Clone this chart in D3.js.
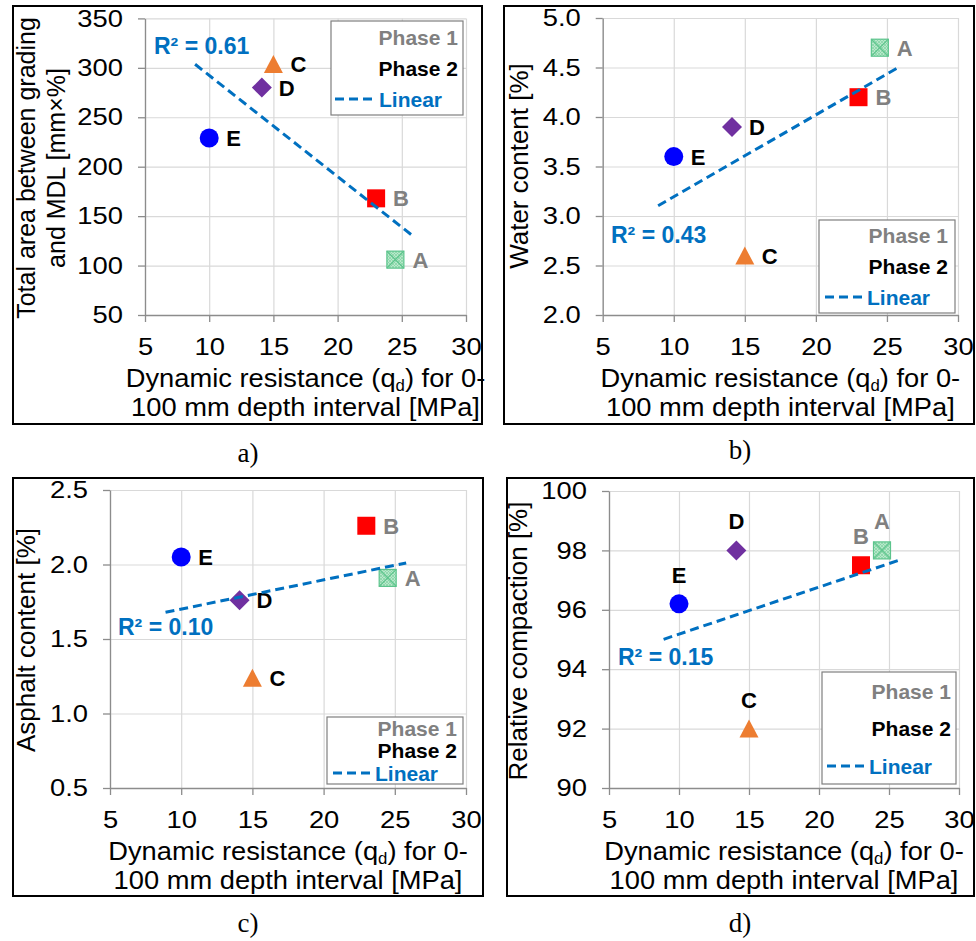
<!DOCTYPE html>
<html>
<head>
<meta charset="utf-8">
<script src="https://cdn.jsdelivr.net/npm/d3@7"></script>
<style>
  body { margin: 0; background: #fff; }
  svg text { font-family: "Liberation Sans", Arial, sans-serif; }
</style>
</head>
<body>
<svg id="chart"></svg>
<script>
// site data
const sites = ["A", "B", "C", "D", "E"];
const sitePhase = [1, 1, 2, 2, 2];
const qd = [24.5, 23.0, 15.0, 14.1, 10.0];
const gradingArea = [106, 168, 304, 280, 229];
const waterContent = [4.7, 4.2, 2.6, 3.9, 3.6];
const asphaltContent = [1.91, 2.26, 1.24, 1.76, 2.05];
const relCompaction = [98.0, 97.5, 92.0, 98.0, 96.2];

// ticks
const xTicks = [5, 10, 15, 20, 25, 30];
const gradingTicks = [50, 100, 150, 200, 250, 300, 350];
const waterTicks = [2.0, 2.5, 3.0, 3.5, 4.0, 4.5, 5.0];
const asphaltTicks = [0.5, 1.0, 1.5, 2.0, 2.5];
const compactionTicks = [90, 92, 94, 96, 98, 100];

// linear trendline drawn over this qd range (forecast both ways)
const trendRange = [8.9, 25.8];
const legendLabels = ["Phase 1", "Phase 2", "Linear"];

const width = 976,
  height = 941;

// the source figure's regular text is a bit wide, stretch it horizontally
const tickStretch = 1.14;
const titleStretch = 1.05;
const tickFont = 24;

const svg = d3.select("#chart").attr("width", width).attr("height", height);

const trendColor = "#0070C0";
const markerStyle = {
  A: { shape: "xsquare", fill: "#aee3c4", stroke: "#5cc48c" },
  B: { shape: "square", fill: "#ff0000" },
  C: { shape: "triangle", fill: "#ed7d31" },
  D: { shape: "diamond", fill: "#7030a0" },
  E: { shape: "circle", fill: "#0000ff" },
};

// pattern for site A
const defs = svg.append("defs");
const pat = defs
  .append("pattern")
  .attr("id", "hatchA")
  .attr("width", 3)
  .attr("height", 3)
  .attr("patternUnits", "userSpaceOnUse");
pat.append("rect").attr("width", 3).attr("height", 3).attr("fill", "#b8e8cb");
pat.append("path").attr("d", "M0,0L3,3M3,0L0,3").attr("stroke", "#7fd2a2").attr("stroke-width", 0.7);

function linFit(xs, ys) {
  const n = xs.length;
  const mx = d3.mean(xs),
    my = d3.mean(ys);
  let sxy = 0,
    sxx = 0,
    syy = 0;
  for (let i = 0; i < n; i++) {
    sxy += (xs[i] - mx) * (ys[i] - my);
    sxx += (xs[i] - mx) ** 2;
    syy += (ys[i] - my) ** 2;
  }
  const slope = sxy / sxx;
  return { slope, icpt: my - slope * mx, r2: (sxy * sxy) / (sxx * syy) };
}

const panels = [
  {
    values: gradingArea,
    ticks: gradingTicks,
    fmt: d3.format("d"),
    box: [13, 6, 482, 424],
    plot: [145, 466, 18.4, 315],
    yTitle: ["Total area between grading", "and MDL [mm\u00d7%]"],
    yTitleX: [35, 65],
    yTitleY: 168,
    yTitleSize: 25,
    r2Pos: [154, 54],
    legend: { box: [331, 21, 463, 115], rows: [45, 76, 107], right: 458, dash: [335, 377], dashY: 99 },
    labelMode: "right",
    caption: ["a)", 248, 462],
  },
  {
    values: waterContent,
    ticks: waterTicks,
    fmt: d3.format(".1f"),
    box: [504, 6, 974, 424],
    plot: [602.7, 958, 18, 315],
    yTitle: ["Water content [%]"],
    yTitleX: [528],
    yTitleY: 166,
    yTitleSize: 26,
    r2Pos: [611, 243],
    legend: { box: [819, 220, 955, 313], rows: [243, 274, 305], right: 948, dash: [825, 865], dashY: 297 },
    labelMode: "right",
    caption: ["b)", 740, 459],
  },
  {
    values: asphaltContent,
    ticks: asphaltTicks,
    fmt: d3.format(".1f"),
    box: [13, 478, 483, 896],
    plot: [110, 466, 490, 788],
    yTitle: ["Asphalt content [%]"],
    yTitleX: [35],
    yTitleY: 640,
    yTitleSize: 26,
    r2Pos: [118, 635],
    legend: { box: [327, 717, 463, 784], rows: [736, 758, 781], right: 457, dash: [333, 373], dashY: 773 },
    labelMode: "right",
    caption: ["c)", 248, 932],
  },
  {
    values: relCompaction,
    ticks: compactionTicks,
    fmt: d3.format("d"),
    box: [507, 478, 974, 896],
    plot: [609, 959, 491, 788],
    yTitle: ["Relative compaction [%]"],
    yTitleX: [527],
    yTitleY: 641,
    yTitleSize: 26,
    r2Pos: [618, 665],
    legend: { box: [822, 672, 956, 784], rows: [699, 736, 774], right: 951, dash: [827, 867], dashY: 766 },
    labelMode: "above",
    caption: ["d)", 740, 932],
  },
];

function drawMarker(g, site, cx, cy) {
  const st = markerStyle[site];
  if (st.shape === "circle") {
    g.append("circle").attr("cx", cx).attr("cy", cy).attr("r", 9.5).attr("fill", st.fill);
  } else if (st.shape === "square") {
    g.append("rect").attr("x", cx - 9).attr("y", cy - 9).attr("width", 18).attr("height", 18).attr("fill", st.fill);
  } else if (st.shape === "xsquare") {
    g.append("rect")
      .attr("x", cx - 8.5)
      .attr("y", cy - 8.5)
      .attr("width", 17)
      .attr("height", 17)
      .attr("fill", "url(#hatchA)")
      .attr("stroke", st.stroke)
      .attr("stroke-width", 1.2);
    g.append("path")
      .attr("d", `M${cx - 8.5},${cy - 8.5}L${cx + 8.5},${cy + 8.5}M${cx + 8.5},${cy - 8.5}L${cx - 8.5},${cy + 8.5}`)
      .attr("stroke", st.stroke)
      .attr("stroke-width", 1.2);
  } else if (st.shape === "triangle") {
    g.append("path")
      .attr("d", `M${cx},${cy - 9}L${cx + 9.5},${cy + 9}L${cx - 9.5},${cy + 9}Z`)
      .attr("fill", st.fill);
  } else if (st.shape === "diamond") {
    g.append("path")
      .attr("d", `M${cx},${cy - 10}L${cx + 10},${cy}L${cx},${cy + 10}L${cx - 10},${cy}Z`)
      .attr("fill", st.fill);
  }
}

panels.forEach((p) => {
  const g = svg.append("g");
  const [px0, px1, py0, py1] = p.plot;

  const x = d3.scaleLinear().domain([5, 30]).range([px0, px1]);
  const y = d3
    .scaleLinear()
    .domain(d3.extent(p.ticks))
    .range([py1, py0]);

  // gridlines
  g.append("g")
    .attr("transform", `translate(0,${py1})`)
    .call(d3.axisBottom(x).tickValues(xTicks).tickSize(-(py1 - py0)).tickFormat(""))
    .call((s) => {
      s.select(".domain").remove();
      s.selectAll("line").attr("stroke", "#d9d9d9").attr("stroke-width", 1.2);
    });
  g.append("g")
    .attr("transform", `translate(${px0},0)`)
    .call(d3.axisLeft(y).tickValues(p.ticks).tickSize(-(px1 - px0)).tickFormat(""))
    .call((s) => {
      s.select(".domain").remove();
      s.selectAll("line").attr("stroke", "#d9d9d9").attr("stroke-width", 1.2);
    });

  // axes
  g.append("g")
    .attr("transform", `translate(0,${py1})`)
    .call(d3.axisBottom(x).tickValues(xTicks).tickSize(7).tickSizeOuter(0).tickPadding(16))
    .call((s) => {
      s.select(".domain").attr("stroke", "#8c8c8c").attr("stroke-width", 1.3);
      s.selectAll("line").attr("stroke", "#8c8c8c").attr("stroke-width", 1.3);
      s.selectAll("text")
        .attr("font-size", tickFont)
        .attr("fill", "#000")
        .attr("transform", `scale(${tickStretch},1)`)
        .style("font-family", '"Liberation Sans", Arial, sans-serif');
    });
  g.append("g")
    .attr("transform", `translate(${px0},0)`)
    .call(d3.axisLeft(y).tickValues(p.ticks).tickSize(7).tickSizeOuter(0).tickPadding(15).tickFormat(p.fmt))
    .call((s) => {
      s.select(".domain").attr("stroke", "#8c8c8c").attr("stroke-width", 1.3);
      s.selectAll("line").attr("stroke", "#8c8c8c").attr("stroke-width", 1.3);
      s.selectAll("text")
        .attr("font-size", tickFont)
        .attr("fill", "#000")
        .attr("x", 0)
        .attr("transform", `translate(-22,0) scale(${tickStretch},1)`)
        .style("font-family", '"Liberation Sans", Arial, sans-serif');
    });

  // axis titles
  const cxp = (px0 + px1) / 2;
  const xt = g
    .append("text")
    .attr("transform", `translate(${cxp},${py1 + 72}) scale(${titleStretch},1)`)
    .attr("text-anchor", "middle")
    .attr("font-size", 26)
    .attr("fill", "#000");
  xt.append("tspan").text("Dynamic resistance (q");
  xt.append("tspan").attr("font-size", 16).attr("dy", 4).text("d");
  xt.append("tspan").attr("dy", -4).text(") for 0-");
  g.append("text")
    .attr("transform", `translate(${cxp},${py1 + 101}) scale(${titleStretch},1)`)
    .attr("text-anchor", "middle")
    .attr("font-size", 26)
    .attr("fill", "#000")
    .text("100 mm depth interval [MPa]");

  p.yTitle.forEach((t, i) => {
    g.append("text")
      .attr("transform", `translate(${p.yTitleX[i]},${p.yTitleY}) rotate(-90)`)
      .attr("text-anchor", "middle")
      .attr("font-size", p.yTitleSize)
      .attr("fill", "#000")
      .text(t);
  });

  // points
  const pts = g.append("g");
  sites.forEach((s, i) => {
    const cx = x(qd[i]),
      cy = y(p.values[i]);
    drawMarker(pts, s, cx, cy);
    const lbl = pts
      .append("text")
      .attr("font-size", 22)
      .attr("font-weight", "bold")
      .attr("fill", sitePhase[i] === 1 ? "#808080" : "#000")
      .text(s);
    if (p.labelMode === "right") {
      lbl.attr("x", cx + 17).attr("y", cy + 8);
    } else {
      lbl.attr("x", cx).attr("y", cy - 21).attr("text-anchor", "middle");
    }
  });

  // trendline
  const fit = linFit(qd, p.values);
  g.append("line")
    .attr("x1", x(trendRange[0]))
    .attr("y1", y(fit.icpt + fit.slope * trendRange[0]))
    .attr("x2", x(trendRange[1]))
    .attr("y2", y(fit.icpt + fit.slope * trendRange[1]))
    .attr("stroke", trendColor)
    .attr("stroke-width", 3)
    .attr("stroke-dasharray", "9,5");

  g.append("text")
    .attr("x", p.r2Pos[0])
    .attr("y", p.r2Pos[1])
    .attr("font-size", 23)
    .attr("font-weight", "bold")
    .attr("fill", trendColor)
    .text("R\u00b2 = " + d3.format(".2f")(fit.r2));

  // legend
  const lg = p.legend;
  g.append("rect")
    .attr("x", lg.box[0])
    .attr("y", lg.box[1])
    .attr("width", lg.box[2] - lg.box[0])
    .attr("height", lg.box[3] - lg.box[1])
    .attr("fill", "#fff")
    .attr("stroke", "#7f7f7f")
    .attr("stroke-width", 1.2);
  g.append("text")
    .attr("x", lg.right)
    .attr("y", lg.rows[0])
    .attr("text-anchor", "end")
    .attr("font-size", 21)
    .attr("font-weight", "bold")
    .attr("fill", "#808080")
    .text(legendLabels[0]);
  g.append("text")
    .attr("x", lg.right)
    .attr("y", lg.rows[1])
    .attr("text-anchor", "end")
    .attr("font-size", 21)
    .attr("font-weight", "bold")
    .attr("fill", "#000")
    .text(legendLabels[1]);
  g.append("line")
    .attr("x1", lg.dash[0])
    .attr("x2", lg.dash[1])
    .attr("y1", lg.dashY)
    .attr("y2", lg.dashY)
    .attr("stroke", trendColor)
    .attr("stroke-width", 3)
    .attr("stroke-dasharray", "9,5");
  g.append("text")
    .attr("x", lg.dash[1] + 2)
    .attr("y", lg.rows[2])
    .attr("font-size", 21)
    .attr("font-weight", "bold")
    .attr("fill", trendColor)
    .text(legendLabels[2]);

  // frame
  g.append("rect")
    .attr("x", p.box[0])
    .attr("y", p.box[1])
    .attr("width", p.box[2] - p.box[0])
    .attr("height", p.box[3] - p.box[1])
    .attr("fill", "none")
    .attr("stroke", "#000")
    .attr("stroke-width", 2);

  svg.append("text")
    .attr("x", p.caption[1])
    .attr("y", p.caption[2])
    .attr("text-anchor", "middle")
    .attr("font-size", 27)
    .style("font-family", '"Liberation Serif", "Times New Roman", serif')
    .attr("fill", "#000")
    .text(p.caption[0]);
});
</script>
</body>
</html>
